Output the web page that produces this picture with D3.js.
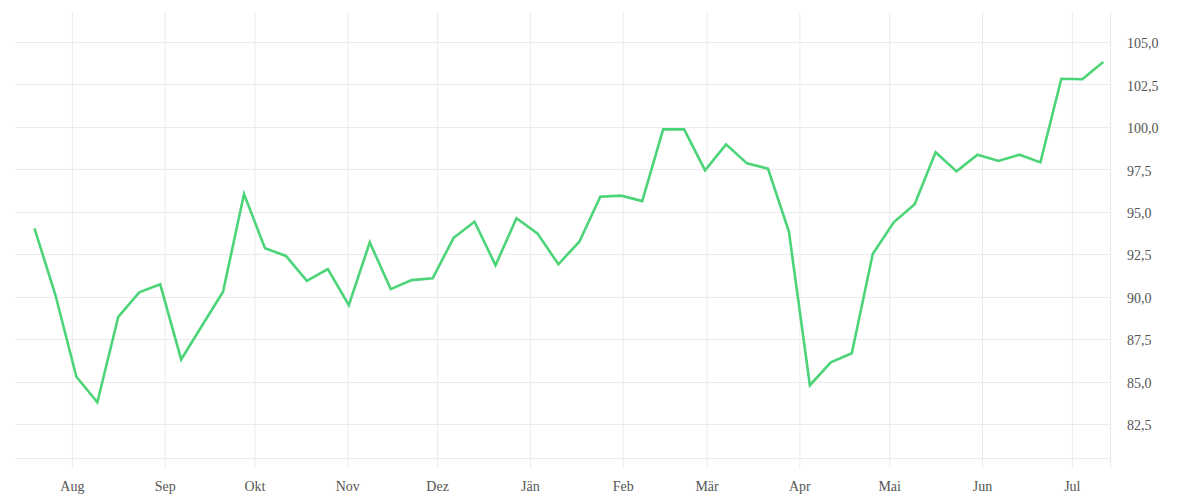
<!DOCTYPE html>
<html>
<head>
<meta charset="utf-8">
<script src="https://cdn.jsdelivr.net/npm/d3@7"></script>
<style>
  html, body { margin: 0; padding: 0; background: #fff; }
  svg { display: block; }
  .tick text { font-family: "Liberation Serif", "Times New Roman", serif; font-size: 14px; fill: #555; }
</style>
</head>
<body>
<svg id="chart" width="1200" height="500"></svg>
<script>
const dates = [
  "2022-07-19","2022-07-26","2022-08-02","2022-08-09","2022-08-16","2022-08-23","2022-08-30",
  "2022-09-06","2022-09-13","2022-09-20","2022-09-27","2022-10-04","2022-10-11","2022-10-18",
  "2022-10-25","2022-11-01","2022-11-08","2022-11-15","2022-11-22","2022-11-29","2022-12-06",
  "2022-12-13","2022-12-20","2022-12-27","2023-01-03","2023-01-10","2023-01-17","2023-01-24",
  "2023-01-31","2023-02-07","2023-02-14","2023-02-21","2023-02-28","2023-03-07","2023-03-14",
  "2023-03-21","2023-03-28","2023-04-04","2023-04-11","2023-04-18","2023-04-25","2023-05-02",
  "2023-05-09","2023-05-16","2023-05-23","2023-05-30","2023-06-06","2023-06-13","2023-06-20",
  "2023-06-27","2023-07-04","2023-07-11"
];
const values = [
  94.02, 90.09, 85.28, 83.78, 88.81, 90.25, 90.72,
  86.30, 88.30, 90.29, 96.04, 92.84, 92.39, 90.92,
  91.62, 89.50, 93.19, 90.44, 90.97, 91.07, 93.46,
  94.41, 91.84, 94.61, 93.72, 91.90, 93.23, 95.88,
  95.94, 95.62, 99.84, 99.84, 97.43, 98.96, 97.84,
  97.53, 93.82, 84.78, 86.13, 86.66, 92.50, 94.37,
  95.43, 98.49, 97.37, 98.35, 97.98, 98.35, 97.90,
  102.82, 102.79, 103.81
];
const yTicks = [82.5, 85, 87.5, 90, 92.5, 95, 97.5, 100, 102.5, 105];
const monthNames = ["Jän","Feb","Mär","Apr","Mai","Jun","Jul","Aug","Sep","Okt","Nov","Dez"];

const parse = d3.timeParse("%Y-%m-%d");
const data = dates.map((d, i) => ({ date: d3.timeHour.offset(parse(d), 12), value: values[i] }));

const mLeft = 15, mRight = 1110, mTop = 12, mBottom = 458.3;
const svg = d3.select("#chart");

const x = d3.scaleTime()
  .domain([new Date(2022, 6, 13), new Date(2023, 6, 13, 18)])
  .range([mLeft, mRight]);
const y = d3.scaleLinear()
  .domain([80.48, 106.75])
  .range([mBottom, mTop]);

const gridColor = "#ebebeb";

// horizontal gridlines
svg.append("g").selectAll("line").data(yTicks.concat([80.48])).join("line")
  .attr("x1", mLeft).attr("x2", mRight)
  .attr("y1", d => Math.round(y(d)) + 0.5).attr("y2", d => Math.round(y(d)) + 0.5)
  .attr("stroke", gridColor).attr("stroke-width", 1);

// x axis with vertical gridlines
const monthTicks = d3.timeMonth.range(new Date(2022, 7, 1), new Date(2023, 6, 2));
const xAxis = d3.axisBottom(x)
  .tickValues(monthTicks)
  .tickSize(mBottom + 10 - mTop)
  .tickPadding(10)
  .tickFormat(d => monthNames[d.getMonth()]);
const gx = svg.append("g").attr("transform", `translate(0,${mTop})`).call(xAxis);
gx.select(".domain").remove();
gx.selectAll(".tick line").attr("stroke", gridColor);
gx.selectAll(".tick text").attr("dy", "0.9em");

// right border line
svg.append("line")
  .attr("x1", mRight + 0.5).attr("x2", mRight + 0.5)
  .attr("y1", mTop).attr("y2", mBottom + 10)
  .attr("stroke", gridColor);

// y axis on the right
const fmt = d3.formatLocale({ decimal: ",", thousands: ".", grouping: [3], currency: ["", "€"] }).format(".1f");
const yAxis = d3.axisRight(y).tickValues(yTicks).tickSize(0).tickPadding(17).tickFormat(fmt);
const gy = svg.append("g").attr("transform", `translate(${mRight},0)`).call(yAxis);
gy.select(".domain").remove();
gy.selectAll(".tick text").attr("dy", "0.42em");

// line
const line = d3.line().x(d => x(d.date)).y(d => y(d.value));
svg.append("path").datum(data)
  .attr("d", line)
  .attr("fill", "none")
  .attr("stroke", "#4cd478")
  .attr("stroke-width", 2.6)
  .attr("stroke-linejoin", "miter");
</script>
</body>
</html>
